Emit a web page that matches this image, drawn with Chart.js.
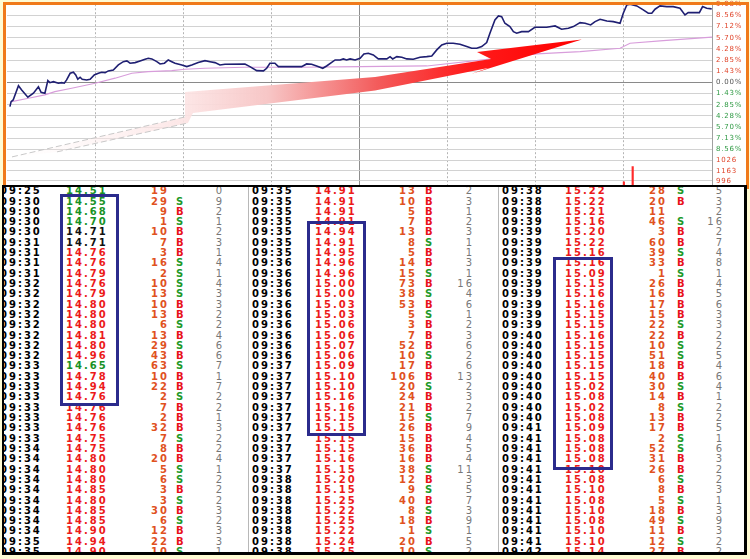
<!DOCTYPE html>
<html>
<head>
<meta charset="UTF-8">
<title>分时走势与成交明细</title>
<style>
  body { margin: 0; width: 750px; height: 559px; background: #fffbd4; position: relative; overflow: hidden; }
  #panel { position: absolute; left: 6px; top: 5px; width: 740px; height: 181px; background: #fff; }
  #wrap { position: absolute; left: 0; top: 0; width: 750px; height: 186px; overflow: hidden; }
  #frame { position: absolute; left: 3px; top: 2px; width: 740px; height: 184px; border: 3px solid #f07a1a; border-bottom: 0; }
  #tbl { position: absolute; left: 2px; top: 185px; width: 740px; height: 365px; border: solid #000; border-width: 2px 3px 3px 2px; background: #fff; overflow: hidden; }
  .c { position: absolute; font: bold 10px "DejaVu Sans", sans-serif; letter-spacing: 2px; line-height: 12px; white-space: nowrap; }
  .r { text-align: right; width: 40px; }
  .n { font-weight: normal; color: #777; }
  .sep { position: absolute; top: 0; width: 1px; height: 365px; background: #b8b8b8; }
  .box { position: absolute; border: 3px solid #2b2b8c; box-sizing: border-box; }
</style>
</head>
<body>
<div id="panel"></div>
<div id="wrap"><canvas id="chart" width="750" height="245"></canvas></div>
<div id="frame"></div>
<div id="tbl"></div>
<script src="https://cdn.jsdelivr.net/npm/chart.js"></script>
<script>
const prevClose = 14.71;

// 分时线：分钟（9:30 起）与涨跌幅 %
const priceMin = [
  1.0, 1.4, 2.1, 3.9, 5.0, 7.1, 9.0, 10.7, 11.6, 12.9,
  13.9, 14.6, 15.8, 17.5, 18.6, 19.5, 20.3, 21.5, 22.6, 23.4,
  24.1, 24.9, 25.6, 27.1, 28.3, 29.7, 31.1, 32.2, 33.4, 34.5,
  36.2, 37.9, 39.6, 40.8, 41.9, 43.6, 45.3, 47.0, 48.1, 49.3,
  51.0, 52.1, 53.6, 54.9, 56.1, 57.2, 59.5, 61.2, 62.9, 65.1,
  67.4, 69.1, 70.8, 72.5, 74.2, 81.0, 82.7, 85.0, 87.3, 88.4,
  89.5, 91.2, 92.4, 94.1, 100.3, 102.0, 103.7, 105.4, 107.5, 108.8,
  111.7, 113.4, 114.5, 115.6, 116.8, 118.5, 120.2, 121.5, 123.0, 124.7,
  126.4, 129.3, 130.4, 131.3, 132.7, 134.4, 136.1, 138.3, 140.6, 142.9,
  144.6, 146.3, 148.0, 149.7, 151.9, 154.2, 156.5, 158.2, 159.9, 161.6,
  163.3, 164.4, 166.1, 167.3, 168.4, 169.5, 171.2, 172.4, 173.5, 175.2,
  177.5, 179.7, 183.7, 186.6, 188.8, 191.1, 192.8, 195.1, 196.8, 198.7,
  200.2, 201.9, 204.2, 206.4, 208.7, 209.8, 211.0, 212.1, 214.4, 216.6,
  218.3, 219.5, 220.6, 222.3, 224.6, 226.8, 229.1, 230.8, 231.9, 235.7,
  236.8, 238.2, 239.9
];
const pricePct = [
  -3.09, -2.45, -2.23, -0.41, -0.96, -1.89, -1.38, -0.54, -1.25, -1.38,
  0.23, -0.03, 0.10, -0.10, -0.03, -0.10, 0.32, 1.17, 1.30, 0.96,
  0.41, 0.66, 0.41, 0.32, 0.41, 0.96, 1.17, 1.30, 1.25, 1.47,
  1.59, 2.23, 2.65, 2.74, 2.45, 2.53, 2.74, 2.96, 3.09, 3.00,
  2.65, 2.36, 2.45, 2.87, 2.65, 2.45, 2.23, 2.02, 2.23, 2.53,
  2.78, 2.65, 2.53, 2.23, 2.32, 2.36, 2.02, 1.51, 1.47, 1.81,
  2.45, 2.45, 2.02, 2.02, 2.02, 2.36, 2.32, 2.10, 1.81, 2.10,
  2.87, 2.87, 3.00, 2.87, 3.00, 2.87, 3.09, 3.64, 3.72, 3.51,
  3.00, 3.00, 3.29, 3.00, 3.29, 3.21, 3.00, 2.96, 3.21, 3.29,
  3.38, 4.15, 4.78, 5.00, 5.00, 4.87, 4.57, 4.36, 4.36, 4.57,
  5.08, 6.28, 7.97, 8.48, 8.39, 7.55, 7.12, 6.48, 6.28, 6.48,
  6.48, 7.04, 7.04, 7.21, 6.79, 6.91, 7.12, 7.63, 7.55, 7.33,
  7.76, 8.06, 7.84, 7.76, 7.55, 8.83, 9.89, 9.98, 9.76, 9.25,
  8.83, 8.83, 9.34, 9.76, 9.67, 9.67, 9.46, 8.61, 8.90, 8.90,
  9.67, 9.46, 9.38
];

// 均价线
const avgMin = [1.6, 7.3, 12.9, 16.3, 22.0, 30.0, 36.8, 42.5, 48.1, 56.1, 60.6, 67.4, 81.0, 99.7, 120.2, 142.9, 180.4, 195.1, 208.7, 212.1, 223.4, 240.0];
const avgPct = [-2.45, -2.02, -1.59, -1.17, -0.74, -0.10, 0.54, 1.17, 1.38, 1.51, 1.68, 1.81, 1.94, 1.94, 2.02, 2.10, 3.64, 3.93, 4.36, 5.00, 5.33, 5.77];

// 成交量（只有这两根露出来）
const volMin = [210, 213];
const volVal = [980, 1230];

const timeTicks = [0, 30, 60, 90, 120, 150, 180, 210, 240];
const pctTicks = [9.98, 8.56, 7.12, 5.70, 4.28, 2.85, 1.43, 0, -1.43, -2.85, -4.28, -5.70, -7.13, -8.56];
const pctTickLabels = ['9.98%', '8.56%', '7.12%', '5.70%', '4.28%', '2.85%', '1.43%', '0.00%', '1.43%', '2.85%', '4.28%', '5.70%', '7.13%', '8.56%'];
const volTicks = [1329, 1163, 996];
const volTickLabels = ['1026', '1163', '996'];

// 箭头（分钟, %）
const arrowMin = [1.70, 60.6, 60.6, 125.3, 164.8, 160.0, 195.7, 158.0, 163.7, 125.3, 63.3, 61.6, 17.0];
const arrowPct = [-9.50, -4.40, -1.21, 0.70, 3.00, 3.89, 5.48, 1.08, 1.85, -1.02, -3.89, -5.17, -8.86];

// 成交明细
const tickTime = [
  '09:25','09:30','09:30','09:30','09:30','09:31','09:31','09:31','09:31','09:32','09:32','09:32',
  '09:32','09:32','09:32','09:32','09:32','09:33','09:33','09:33','09:33','09:33','09:33','09:33',
  '09:33','09:34','09:34','09:34','09:34','09:34','09:34','09:34','09:34','09:34','09:35','09:35',
  '09:35','09:35','09:35','09:35','09:35','09:35','09:35','09:36','09:36','09:36','09:36','09:36',
  '09:36','09:36','09:36','09:36','09:36','09:37','09:37','09:37','09:37','09:37','09:37','09:37',
  '09:37','09:37','09:37','09:37','09:38','09:38','09:38','09:38','09:38','09:38','09:38','09:38',
  '09:38','09:38','09:38','09:39','09:39','09:39','09:39','09:39','09:39','09:39','09:39','09:39',
  '09:39','09:39','09:40','09:40','09:40','09:40','09:40','09:40','09:40','09:40','09:40','09:41',
  '09:41','09:41','09:41','09:41','09:41','09:41','09:41','09:41','09:41','09:41','09:41','09:42'
];
const tickPrice = [
  14.51, 14.55, 14.68, 14.70, 14.71, 14.71, 14.76, 14.76, 14.79, 14.76, 14.79, 14.80,
  14.80, 14.80, 14.81, 14.80, 14.96, 14.65, 14.78, 14.94, 14.76, 14.76, 14.76, 14.76,
  14.75, 14.75, 14.80, 14.80, 14.80, 14.85, 14.80, 14.85, 14.85, 14.90, 14.94, 14.90,
  14.91, 14.91, 14.91, 14.91, 14.94, 14.91, 14.95, 14.96, 14.96, 15.00, 15.00, 15.03,
  15.03, 15.06, 15.06, 15.07, 15.06, 15.09, 15.10, 15.10, 15.16, 15.16, 15.15, 15.15,
  15.15, 15.15, 15.16, 15.15, 15.20, 15.15, 15.25, 15.22, 15.25, 15.22, 15.24, 15.25,
  15.22, 15.22, 15.21, 15.16, 15.20, 15.22, 15.16, 15.16, 15.09, 15.15, 15.16, 15.16,
  15.15, 15.15, 15.16, 15.15, 15.15, 15.15, 15.15, 15.02, 15.08, 15.02, 15.08, 15.09,
  15.08, 15.08, 15.08, 15.10, 15.08, 15.10, 15.08, 15.10, 15.08, 15.10, 15.10, 15.14
];
const tickVol = [
  19, 29, 9, 1, 10, 7, 3, 16, 2, 10, 13, 10,
  13, 6, 13, 29, 43, 63, 10, 22, 2, 7, 2, 32,
  7, 8, 20, 5, 6, 3, 3, 30, 6, 12, 22, 10,
  13, 10, 5, 7, 13, 8, 5, 14, 15, 73, 38, 53,
  5, 3, 7, 52, 10, 17, 106, 20, 24, 21, 15, 26,
  15, 36, 16, 38, 12, 9, 40, 8, 18, 1, 20, 10,
  28, 20, 11, 46, 3, 60, 39, 33, 1, 26, 16, 17,
  15, 22, 22, 10, 51, 18, 40, 30, 14, 8, 13, 17,
  2, 52, 31, 26, 6, 8, 5, 18, 49, 11, 12, 27
];
const tickSide = [
  '', 'S', 'B', 'S', 'B', 'B', 'B', 'S', 'S', 'S', 'S', 'B',
  'B', 'S', 'B', 'S', 'B', 'S', 'B', 'B', 'S', 'B', 'B', 'B',
  'S', 'B', 'B', 'S', 'S', 'B', 'S', 'B', 'S', 'B', 'B', 'S',
  'B', 'B', 'B', 'B', 'B', 'S', 'B', 'B', 'S', 'B', 'S', 'B',
  'S', 'B', 'B', 'B', 'S', 'B', 'B', 'S', 'B', 'B', 'S', 'B',
  'B', 'B', 'B', 'S', 'B', 'S', 'B', 'S', 'B', 'S', 'B', 'S',
  'S', 'B', '', 'S', 'B', 'B', 'S', 'B', 'S', 'B', 'B', 'B',
  'B', 'S', 'B', 'S', 'S', 'B', 'B', 'S', 'B', 'S', 'B', 'B',
  'S', 'S', 'B', 'B', 'S', 'B', 'S', 'B', 'S', 'B', 'S', 'B'
];
const tickCount = [
  0, 9, 2, 1, 2, 3, 1, 4, 1, 4, 3, 3,
  2, 2, 4, 6, 6, 7, 1, 7, 2, 2, 1, 3,
  2, 2, 4, 1, 2, 2, 2, 3, 2, 3, 3, 1,
  2, 3, 1, 2, 3, 1, 1, 3, 1, 16, 4, 6,
  1, 2, 3, 6, 2, 6, 13, 2, 3, 2, 7, 9,
  4, 5, 4, 11, 3, 5, 7, 3, 9, 1, 5, 2,
  5, 3, 2, 16, 2, 7, 4, 8, 1, 4, 5, 6,
  3, 3, 2, 2, 5, 4, 6, 4, 1, 2, 2, 5,
  1, 6, 3, 2, 2, 3, 1, 3, 9, 3, 2, 2
];

// 画在分时图上的红色箭头
const arrowPlugin = {
  id: 'arrow',
  afterDatasetsDraw(chart) {
    const ctx = chart.ctx, x = chart.scales.x, y = chart.scales.y;
    const pts = arrowMin.map((m, i) => [x.getPixelForValue(m), y.getPixelForValue(arrowPct[i])]);
    const g = ctx.createLinearGradient(pts[0][0], 0, pts[6][0], 0);
    g.addColorStop(0, 'rgba(255,240,240,0)');
    g.addColorStop(0.3, 'rgba(252,228,228,0.9)');
    g.addColorStop(0.45, '#f7c6c6');
    g.addColorStop(0.64, '#f35c5c');
    g.addColorStop(0.8, '#ff1c1c');
    g.addColorStop(1, '#ff0000');
    ctx.save();
    ctx.beginPath();
    pts.forEach((p, i) => i ? ctx.lineTo(p[0], p[1]) : ctx.moveTo(p[0], p[1]));
    ctx.closePath();
    ctx.fillStyle = g;
    ctx.fill();
    ctx.strokeStyle = '#c8c8c8';
    ctx.lineWidth = 1;
    ctx.setLineDash([6, 3]);
    ctx.beginPath();
    ctx.moveTo(pts[0][0], pts[0][1]); ctx.lineTo(pts[1][0], pts[1][1]);
    ctx.moveTo(pts[12][0], pts[12][1]); ctx.lineTo(pts[11][0], pts[11][1]);
    ctx.stroke();
    ctx.restore();
  }
};

const spacingPlugin = {
  id: 'spacing',
  beforeDraw(chart) { chart.ctx.letterSpacing = '0.8px'; }
};

const pctColor = v => v > 0 ? '#e0442a' : (v < 0 ? '#2f9a44' : '#555');
const fitRight = w => a => { a.width = w; a.paddingTop = 0; a.paddingBottom = 0; };

new Chart(document.getElementById('chart'), {
  type: 'line',
  data: {
    datasets: [{
      data: priceMin.map((m, i) => ({x: m, y: pricePct[i]})),
      borderColor: '#1f1f72',
      borderWidth: 1.6,
      pointRadius: 0,
      tension: 0,
      yAxisID: 'y'
    }, {
      data: avgMin.map((m, i) => ({x: m, y: avgPct[i]})),
      borderColor: '#d89ddb',
      borderWidth: 1.2,
      pointRadius: 0,
      tension: 0,
      yAxisID: 'y'
    }, {
      type: 'bar',
      data: volMin.map((m, i) => ({x: m, y: volVal[i]})),
      backgroundColor: '#ff2a2a',
      barThickness: 1.5,
      yAxisID: 'yv'
    }]
  },
  options: {
    responsive: false,
    animation: false,
    devicePixelRatio: 1,
    layout: { padding: { left: 7, top: 4.2, right: 0, bottom: 4 } },
    plugins: { legend: { display: false }, tooltip: { enabled: false } },
    scales: {
      x: {
        type: 'linear', min: 0, max: 240, offset: false,
        afterBuildTicks: a => { a.ticks = timeTicks.map(v => ({value: v})); },
        afterFit: a => { a.height = 0; a.paddingLeft = 0; a.paddingRight = 0; },
        ticks: { display: false },
        grid: {
          offset: false,
          drawTicks: false,
          color: c => {
            const v = c.tick ? c.tick.value : -1;
            if (v === 0) return 'rgba(0,0,0,0)';
            if (v === 120) return '#8e8e8e';
            if (v === 240) return '#a0a0a0';
            return '#b4b4b4';
          }
        },
        border: { display: false, dash: c => (c.tick && (c.tick.value === 120 || c.tick.value === 240)) ? [] : [2, 2] }
      },
      y: {
        type: 'linear', position: 'right', stack: 'right', stackWeight: 156.6,
        min: -9.98, max: 9.98,
        afterBuildTicks: a => { a.ticks = pctTicks.slice().sort((p, q) => p - q).map(v => ({value: v})); },
        afterFit: fitRight(38),
        ticks: {
          autoSkip: false, padding: 4,
          font: { family: 'DejaVu Sans', size: 7 },
          color: c => pctColor(c.tick.value),
          callback: v => pctTickLabels[pctTicks.indexOf(v)]
        },
        grid: { drawTicks: false, color: c => (c.tick && c.tick.value === 0) ? '#8a8a8a' : '#d2d2d2' },
        border: { display: false }
      },
      yv: {
        type: 'linear', position: 'right', stack: 'right', stackWeight: 80.4,
        min: 0, max: 1329,
        afterBuildTicks: a => { a.ticks = volTicks.slice().sort((p, q) => p - q).map(v => ({value: v})); },
        afterFit: fitRight(38),
        ticks: {
          autoSkip: false, padding: 4,
          font: { family: 'DejaVu Sans', size: 7 },
          color: '#e0442a',
          callback: v => volTickLabels[volTicks.indexOf(v)]
        },
        grid: { drawTicks: false, color: '#d2d2d2' },
        border: { display: false }
      }
    }
  },
  plugins: [arrowPlugin, spacingPlugin]
});

// 成交明细表
const tbl = document.getElementById('tbl');
const rowsPerCol = 36, rowH = 10.31, row0 = 191, ox = 4, oy = 187;
const colTime = [0, 252, 502], colPrice = [66, 315, 565], colVolR = [167, 415, 665];
const colSide = [176, 425, 677], colCntR = [222, 472, 722], sepX = [248, 498];
const boxRows = [[0.41, 20.73], [3.05, 23.63], [6.54, 26.94]];
const boxLeft = [60, 306.7, 553.3];

function cell(text, x, yc, cls, color, right) {
  const d = document.createElement('div');
  d.className = 'c' + (cls ? ' ' + cls : '');
  d.textContent = text;
  d.style.left = (right ? x - 40 + 2 - ox : x - ox) + 'px';
  d.style.top = (yc - oy - 5.8) + 'px';
  if (color) d.style.color = color;
  tbl.appendChild(d);
}
const priceColor = p => p > prevClose ? '#ec1a1a' : (p < prevClose ? '#179226' : '#111');

sepX.forEach(x => {
  const s = document.createElement('div');
  s.className = 'sep';
  s.style.left = (x - ox) + 'px';
  tbl.appendChild(s);
});

for (let i = 0; i < tickTime.length; i++) {
  const g = Math.floor(i / rowsPerCol), r = i % rowsPerCol;
  const yc = row0 + r * rowH;
  cell(tickTime[i], colTime[g], yc, '', '#000');
  cell(tickPrice[i].toFixed(2), colPrice[g], yc, '', priceColor(tickPrice[i]));
  cell(String(tickVol[i]), colVolR[g], yc, 'r', '#e0521e', true);
  if (tickSide[i]) cell(tickSide[i], colSide[g], yc, '', tickSide[i] === 'B' ? '#e8101a' : '#1f9a2a');
  cell(String(tickCount[i]), colCntR[g], yc, 'r n', '', true);
}

boxRows.forEach((b, g) => {
  const d = document.createElement('div');
  d.className = 'box';
  const top = row0 + b[0] * rowH - 1.5, bottom = row0 + b[1] * rowH + 1.5;
  d.style.left = (boxLeft[g] - ox) + 'px';
  d.style.top = (top - oy) + 'px';
  d.style.width = '59.3px';
  d.style.height = (bottom - top) + 'px';
  tbl.appendChild(d);
});
</script>
</body>
</html>
